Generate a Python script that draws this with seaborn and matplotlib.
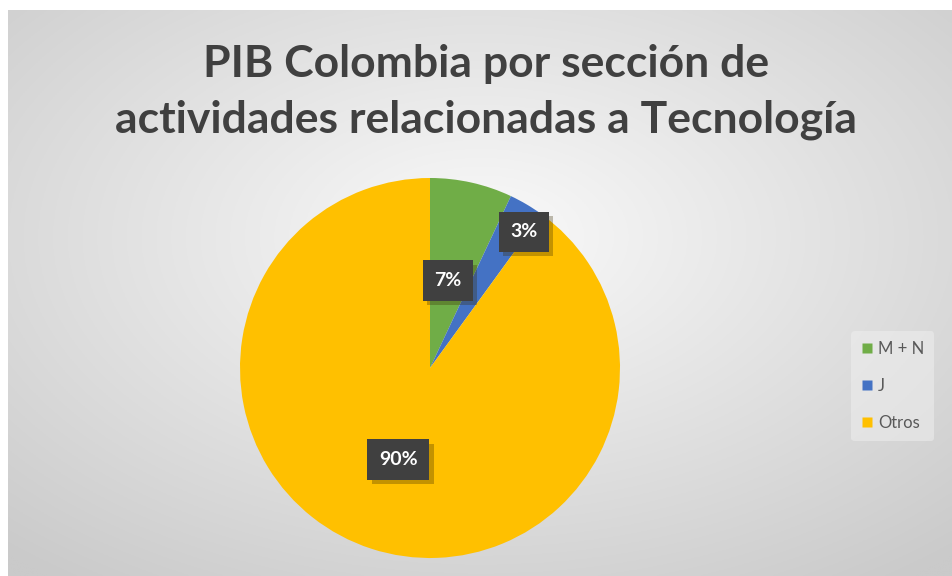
import numpy as np
import matplotlib
matplotlib.use("Agg")
import matplotlib.pyplot as plt
import matplotlib.patheffects as pe
import seaborn as sns

# data
categorias = ["M + N", "J", "Otros"]
valores = [7, 3, 90]
etiquetas = ["7%", "3%", "90%"]
colores = ["#70AD47", "#4472C4", "#FFC000"]
# label placement (Excel "best fit"): radial fraction and angle shift in degrees
dist_etiqueta = [0.47, 0.87, 0.51]
giro_etiqueta = [1, -4, -1]

titulo = "PIB Colombia por sección de\nactividades relacionadas a Tecnología"

sns.set_style("white")
plt.rcParams["font.family"] = ["Lato", "DejaVu Sans"]

W, H = 952, 576
fig = plt.figure(figsize=(W / 100, H / 100), dpi=100)
fig.patch.set_facecolor("white")

# radial gradient background of the chart area
bg = fig.add_axes([8 / W, 0, 1 - 8 / W, 1 - 10 / H], zorder=-5)
yy, xx = np.mgrid[0:300, 0:500]
cx, cy = 250, 120
r = np.sqrt(((xx - cx) / 500) ** 2 + ((yy - cy) / 300) ** 2)
r = np.clip(r / 0.75, 0, 1)
c0 = np.array([250, 250, 250]) / 255
c1 = np.array([202, 202, 202]) / 255
img = c0[None, None, :] * (1 - r[..., None]) + c1[None, None, :] * r[..., None]
bg.imshow(img, aspect="auto", extent=[0, 1, 0, 1])
bg.set_axis_off()

# pie
cx_px, cy_px, rad_px = 430, 368, 190
ax = fig.add_axes([(cx_px - rad_px) / W, 1 - (cy_px + rad_px) / H,
                   2 * rad_px / W, 2 * rad_px / H])
wedges, _ = ax.pie(valores, colors=sns.color_palette(colores), startangle=90,
                   counterclock=False, wedgeprops=dict(linewidth=0))
ax.set_xlim(-1, 1)
ax.set_ylim(-1, 1)
ax.set_aspect("equal")
ax.set_axis_off()

for w, lab, d, g in zip(wedges, etiquetas, dist_etiqueta, giro_etiqueta):
    ang = np.deg2rad((w.theta1 + w.theta2) / 2 + g)
    t = ax.text(d * np.cos(ang), d * np.sin(ang), lab, ha="center", va="center",
                color="white", fontsize=14, fontweight="bold",
                bbox=dict(boxstyle="square,pad=0.6", facecolor="#404040",
                          edgecolor="none"))
    t.get_bbox_patch().set_path_effects([
        pe.SimplePatchShadow(offset=(3, -3), shadow_rgbFace="#3a2a00", alpha=0.3),
        pe.Normal()])

# title
fig.text(486 / W, 1 - 92 / H, titulo, ha="center", va="center",
         fontsize=32, fontweight="bold", color="#404040", linespacing=1.5)

# legend
handles = [plt.Line2D([], [], marker="s", linestyle="none", markersize=7,
                      markerfacecolor=c, markeredgecolor="none") for c in colores]
leg = fig.legend(handles, categorias, loc="center left",
                 bbox_to_anchor=(843 / W, 1 - 386 / H), frameon=True,
                 fontsize=12, labelcolor="#595959", handlelength=0.7,
                 handletextpad=0.3, labelspacing=1.25, borderpad=0.6)
leg.get_frame().set_facecolor("#f0f0f0")
leg.get_frame().set_edgecolor("none")
leg.get_frame().set_alpha(0.5)

fig.savefig("out.png", dpi=100)
